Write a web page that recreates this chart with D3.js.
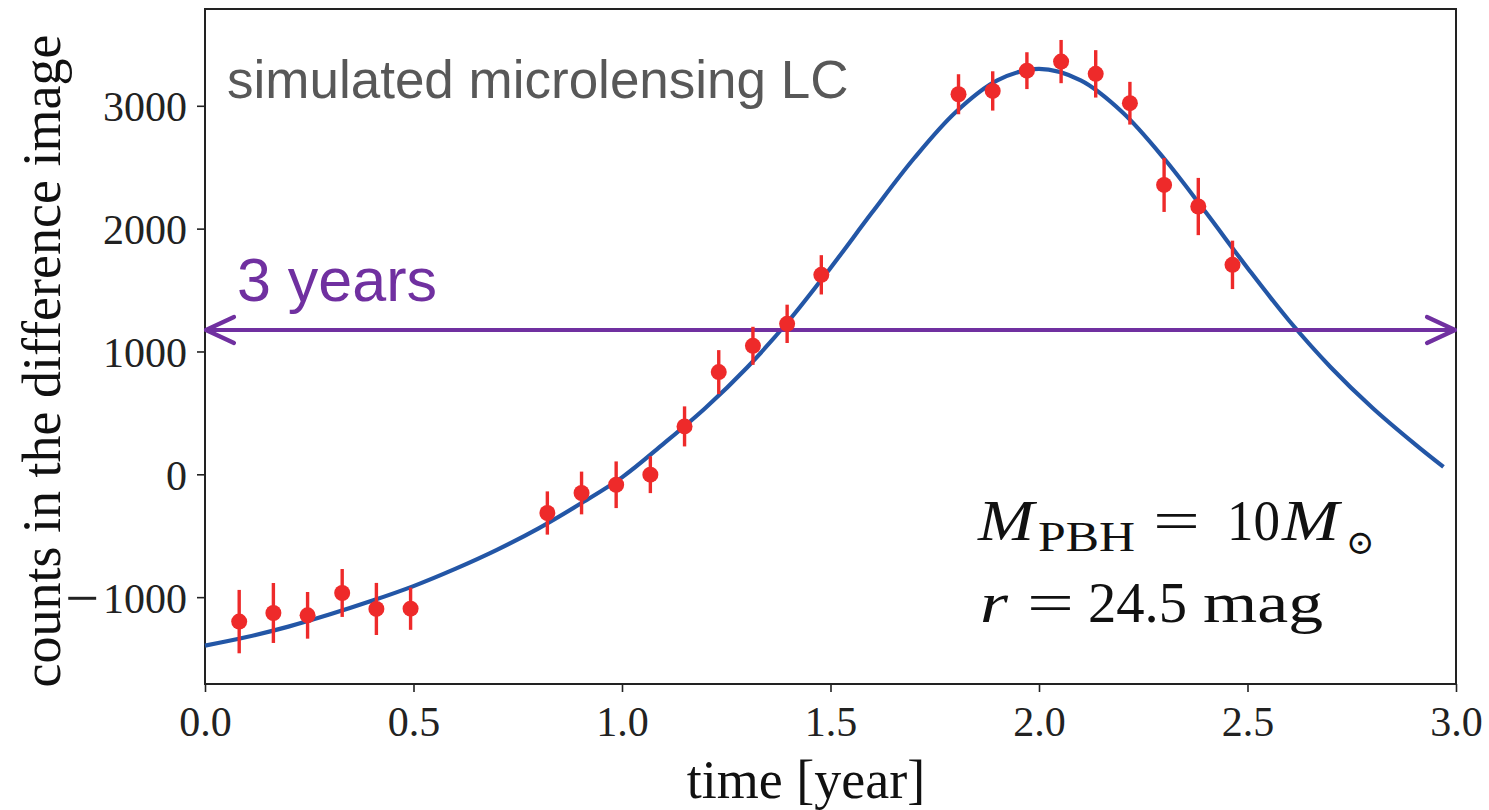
<!DOCTYPE html>
<html>
<head>
<meta charset="utf-8">
<script src="https://cdn.jsdelivr.net/npm/d3@7"></script>
<style>
    body { margin: 0; background: white; }
    svg { display: block; }
</style>
</head>
<body>
<svg id="chart"></svg>
<script>
'use strict';

// model light curve (time in years, counts)
var curve_time = [0.0, 0.1, 0.2, 0.3, 0.4, 0.5, 0.6, 0.7, 0.8, 0.9,
                  1.0, 1.1, 1.2, 1.3, 1.4, 1.5, 1.6, 1.7, 1.8, 1.9,
                  2.0, 2.1, 2.2, 2.3, 2.4, 2.5, 2.6, 2.7, 2.8, 2.9, 2.97];
var curve_counts = [-1395, -1325, -1240, -1140, -1030, -910, -770, -615, -440, -240,
                    -25, 250, 540, 870, 1250, 1680, 2133, 2571, 2948, 3207,
                    3300, 3207, 2948, 2571, 2133, 1680, 1250, 870, 540, 250, 60];

// simulated observations (one every 30 days, with gaps)
var obs_time = [0.082, 0.164, 0.246, 0.329, 0.411, 0.493,
                0.821, 0.903, 0.986, 1.068, 1.150, 1.232, 1.314, 1.396, 1.478,
                1.807, 1.889, 1.971, 2.053, 2.136, 2.218, 2.300, 2.382, 2.464];
var obs_counts = [-1199, -1129, -1148, -966, -1096, -1094,
                  -315, -152, -85, -3, 390, 832, 1046, 1225, 1624,
                  3094, 3121, 3286, 3360, 3260, 3021, 2356, 2180, 1705];
var obs_err = [258, 244, 190, 195, 212, 172,
               176, 174, 190, 150, 163, 179, 155, 156, 160,
               163, 160, 150, 176, 193, 174, 220, 233, 197];

var x_ticks = [0.0, 0.5, 1.0, 1.5, 2.0, 2.5, 3.0];
var y_ticks = [-1000, 0, 1000, 2000, 3000];

var arrow_level = 1175;   // "3 years" arrow height
var arrow_span = [0.0, 3.0];

var colors = {
    curve: "#2356a6",
    points: "#ee2a2a",
    arrow: "#7030a0",
    label: "#585858",
    axis: "#222"
};

var width = 1489, height = 810;
var margin = {left: 205, right: 33, top: 9, bottom: 126};

var svg = d3.select("#chart")
    .attr("width", width)
    .attr("height", height);

var x = d3.scaleLinear()
    .domain([0, 3.0])
    .range([margin.left, width - margin.right]);

var y = d3.scaleLinear()
    .domain([-1707, 3788])
    .range([height - margin.bottom, margin.top]);

var serif = "'Liberation Serif', 'Times New Roman', serif";

// axes
var xAxis = svg.append("g")
    .attr("transform", "translate(0," + (height - margin.bottom) + ")")
    .call(d3.axisBottom(x).tickValues(x_ticks).tickFormat(d3.format(".1f"))
            .tickSizeInner(8).tickSizeOuter(0).tickPadding(10));

var yAxis = svg.append("g")
    .attr("transform", "translate(" + margin.left + ",0)")
    .call(d3.axisLeft(y).tickValues(y_ticks)
            .tickFormat(function(d) { return String(d); })
            .tickSizeInner(8).tickSizeOuter(0).tickPadding(10));

[xAxis, yAxis].forEach(function(g) {
    g.select(".domain").remove();
    g.selectAll(".tick line").attr("stroke", colors.axis).attr("stroke-width", 1.6);
    g.selectAll(".tick text")
     .attr("fill", "#222")
     .style("font-family", serif)
     .style("font-size", "42px");
});
xAxis.selectAll(".tick text").attr("dy", "0.8em");
yAxis.selectAll(".tick text").attr("dy", "0.35em");

// TeX minus sign is long, rebuild negative labels with a bigger one
yAxis.selectAll(".tick text")
     .filter(function(d) { return d < 0; })
     .each(function(d) {
         var t = d3.select(this).text("");
         t.append("tspan")
          .style("font-size", "60px")
          .attr("dy", "20")
          .text("\u2212");
         t.append("tspan")
          .attr("dy", "-5")
          .attr("dx", "4")
          .text(Math.abs(d));
     });

// frame
svg.append("rect")
    .attr("x", x(0))
    .attr("y", y(3788))
    .attr("width", x(3.0) - x(0))
    .attr("height", y(-1707) - y(3788))
    .attr("fill", "none")
    .attr("stroke", colors.axis)
    .attr("stroke-width", 2);

// model curve
var line = d3.line()
    .x(function(d, i) { return x(curve_time[i]); })
    .y(function(d) { return y(d); })
    .curve(d3.curveCatmullRom);

svg.append("path")
    .datum(curve_counts)
    .attr("d", line)
    .attr("fill", "none")
    .attr("stroke", colors.curve)
    .attr("stroke-width", 4.2);

// 3 years arrow
var ay = y(arrow_level);
var ax0 = x(arrow_span[0]), ax1 = x(arrow_span[1]);
var arrow = svg.append("g")
    .attr("stroke", colors.arrow)
    .attr("stroke-width", 4.2)
    .attr("stroke-linecap", "round")
    .attr("stroke-linejoin", "round")
    .attr("fill", "none");
arrow.append("line")
    .attr("x1", ax0 + 1).attr("x2", ax1 - 1)
    .attr("y1", ay).attr("y2", ay);
arrow.append("path")
    .attr("d", "M" + (ax0 + 29) + "," + (ay - 13) + "L" + (ax0 + 1) + "," + ay + "L" + (ax0 + 29) + "," + (ay + 13));
arrow.append("path")
    .attr("d", "M" + (ax1 - 29) + "," + (ay - 13) + "L" + (ax1 - 1) + "," + ay + "L" + (ax1 - 29) + "," + (ay + 13));

svg.append("text")
    .attr("x", x(0) + 32)
    .attr("y", ay - 29)
    .attr("fill", colors.arrow)
    .style("font-family", "'Liberation Sans', Arial, sans-serif")
    .style("font-size", "61px")
    .text("3 years");

// error bars and points
var obs = svg.append("g");
obs.selectAll("line")
    .data(obs_counts)
    .join("line")
    .attr("x1", function(d, i) { return x(obs_time[i]); })
    .attr("x2", function(d, i) { return x(obs_time[i]); })
    .attr("y1", function(d, i) { return y(d - obs_err[i]); })
    .attr("y2", function(d, i) { return y(d + obs_err[i]); })
    .attr("stroke", colors.points)
    .attr("stroke-width", 3.4);
obs.selectAll("circle")
    .data(obs_counts)
    .join("circle")
    .attr("cx", function(d, i) { return x(obs_time[i]); })
    .attr("cy", function(d) { return y(d); })
    .attr("r", 8)
    .attr("fill", colors.points);

// annotations
svg.append("text")
    .attr("x", 227)
    .attr("y", 98)
    .attr("fill", colors.label)
    .style("font-family", "'Liberation Sans', Arial, sans-serif")
    .style("font-size", "53px")
    .text("simulated microlensing LC");

var math = svg.append("g")
    .attr("fill", "#111")
    .style("font-family", serif);

// place one piece of the TeX label, stretched to the width it has in the figure
function mtext(px, py, size, str, italic, len) {
    var t = math.append("text")
        .attr("x", px).attr("y", py)
        .style("font-size", size + "px")
        .style("font-style", italic ? "italic" : "normal")
        .text(str);
    if (len) t.attr("textLength", len).attr("lengthAdjust", "spacingAndGlyphs");
}
mtext(978, 540, 58, "M", true, 56);
mtext(1038, 551, 42, "PBH", false, 97);
mtext(1153, 540, 58, "=", false, 47);
mtext(1227, 540, 58, "10", false, 53);
mtext(1282, 540, 58, "M", true, 57);
math.append("text")
    .attr("x", 1346).attr("y", 554)
    .style("font-family", "'DejaVu Serif', serif")
    .style("font-size", "34px")
    .text("\u2299");
mtext(980, 622, 58, "r", true, 28);
mtext(1027, 622, 58, "=", false, 47);
mtext(1088, 622, 58, "24.5", false, 99);
mtext(1203, 622, 58, "mag", false, 120);

// axis labels
svg.append("text")
    .attr("x", 806)
    .attr("y", 798)
    .attr("text-anchor", "middle")
    .attr("fill", "#111")
    .style("font-family", serif)
    .style("font-size", "54px")
    .text("time [year]");

svg.append("text")
    .attr("transform", "translate(60,361) rotate(-90)")
    .attr("text-anchor", "middle")
    .attr("fill", "#111")
    .style("font-family", serif)
    .style("font-size", "54px")
    .text("counts in the difference image");
</script>
</body>
</html>
